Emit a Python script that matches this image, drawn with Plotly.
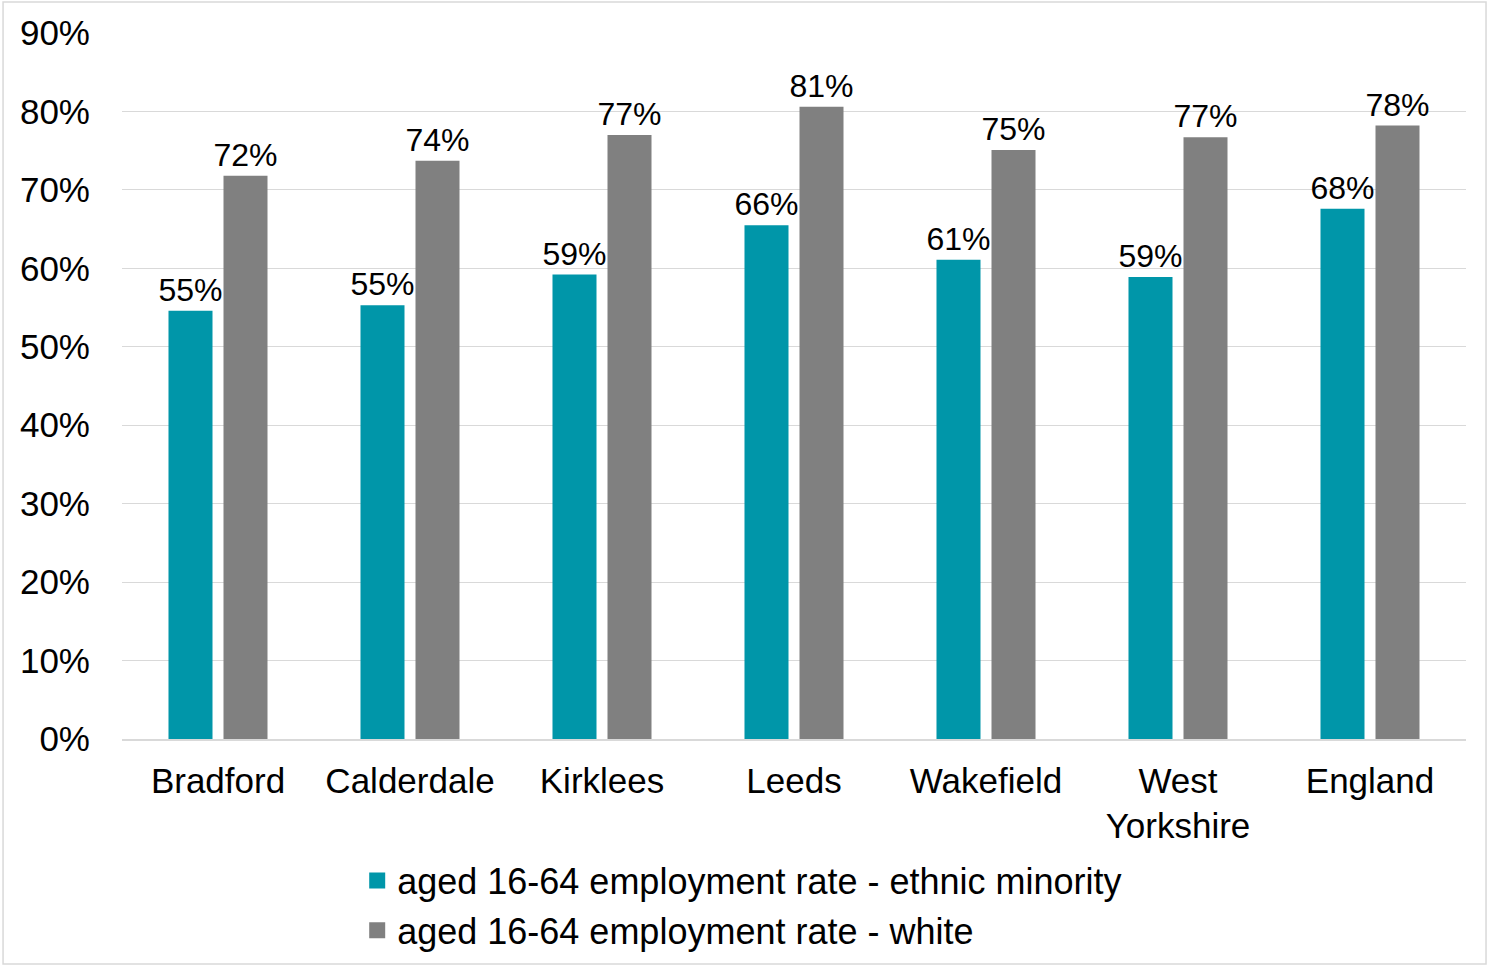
import plotly.graph_objects as go

categories = ["Bradford", "Calderdale", "Kirklees", "Leeds", "Wakefield", "West<br>Yorkshire", "England"]
ethnic_minority = [0.546, 0.553, 0.592, 0.655, 0.611, 0.589, 0.676]
white = [0.718, 0.737, 0.770, 0.806, 0.751, 0.767, 0.782]
series_names = ["aged 16-64 employment rate - ethnic minority", "aged 16-64 employment rate - white"]
series_colors = ["#0096A9", "#808080"]
y_ticks = [0, 0.1, 0.2, 0.3, 0.4, 0.5, 0.6, 0.7, 0.8, 0.9]
y_tick_labels = ["0%", "10%", "20%", "30%", "40%", "50%", "60%", "70%", "80%", "90%"]

FONT = "Liberation Sans, Arial, sans-serif"

fig = go.Figure()
for vals, name, color in zip([ethnic_minority, white], series_names, series_colors):
    fig.add_trace(go.Bar(
        x=categories, y=vals, name=name,
        marker=dict(color=color, line=dict(width=0)),
        texttemplate="%{y:.0%}", textposition="outside",
        constraintext="none",
        textfont=dict(size=32, color="#000000", family=FONT),
        cliponaxis=False, showlegend=False,
    ))
# legend entries with larger square swatches
for name, color in zip(series_names, series_colors):
    fig.add_trace(go.Scatter(
        x=[None], y=[None], mode="markers", name=name,
        marker=dict(symbol="square", size=18, color=color),
        showlegend=True,
    ))

fig.update_layout(
    width=1488, height=966,
    margin=dict(l=122, r=22, t=33, b=227, autoexpand=False),
    paper_bgcolor="white", plot_bgcolor="white",
    barmode="group", bargap=0.427, bargroupgap=0.2,
    font=dict(family=FONT, color="#000000", size=34),
    showlegend=True,
    legend=dict(
        orientation="v", x=0.175, xanchor="left", y=-0.158, yanchor="top",
        font=dict(size=36, color="#000000", family=FONT),
        traceorder="normal", itemclick=False, itemwidth=30,
        bgcolor="rgba(0,0,0,0)",
    ),
)
fig.update_yaxes(
    range=[0, 0.9], tickvals=y_ticks, ticktext=y_tick_labels,
    showgrid=True, gridcolor="#D9D9D9", gridwidth=1.3,
    zeroline=False, showline=False, ticks="",
    tickfont=dict(size=35, color="#000000", family=FONT),
    ticklabelstandoff=31, automargin=False,
)
fig.update_xaxes(
    showline=True, linecolor="#D9D9D9", linewidth=1.5,
    ticks="", tickfont=dict(size=35, color="#000000", family=FONT),
    ticklabelstandoff=10, automargin=False,
)
fig.add_shape(type="rect", xref="paper", yref="paper",
              x0=-0.0885, x1=1.0149, y0=-0.3188, y1=1.0439,
              line=dict(color="#D9D9D9", width=1.5), fillcolor="rgba(0,0,0,0)")

fig.write_html("out.html", config={"displayModeBar": False},
               post_script="document.body.style.margin='0';document.body.style.overflow='hidden';")
